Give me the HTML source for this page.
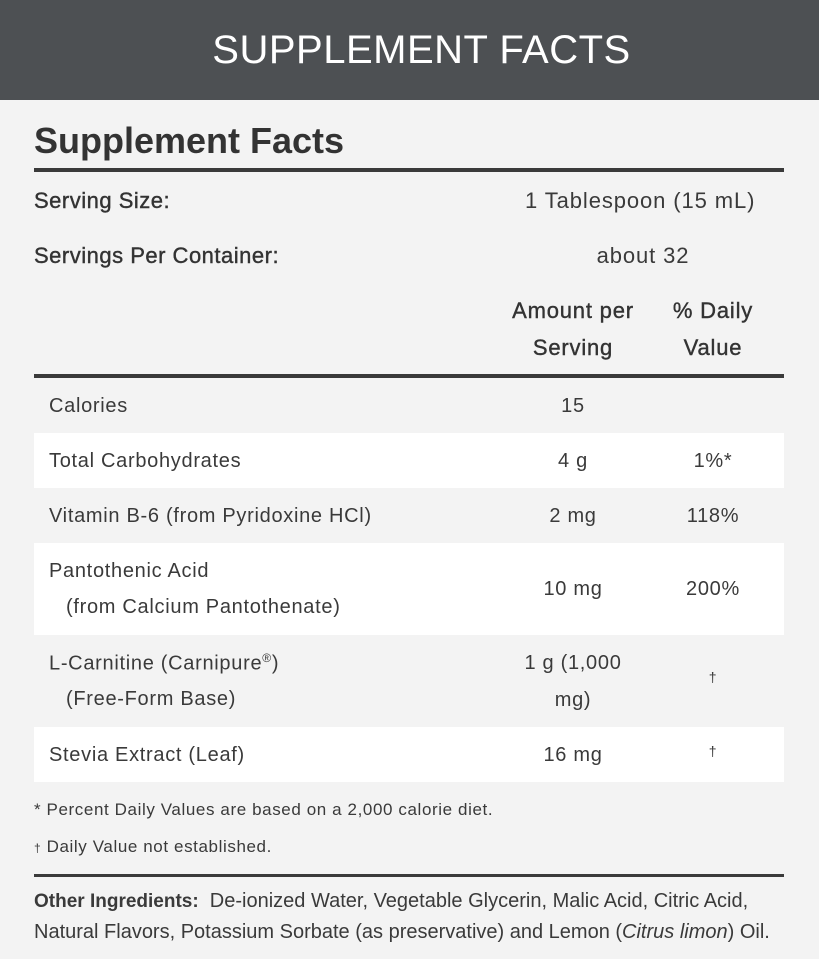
<!DOCTYPE html>
<html><head><style>
*{margin:0;padding:0;box-sizing:border-box}
body{width:819px;height:959px;background:#f3f3f3;font-family:"Liberation Sans",sans-serif;color:#333;position:relative;overflow:hidden}
.a{position:absolute;white-space:nowrap}
.hdr{position:absolute;left:0;top:0;width:819px;height:100px;background:#4d5053;color:#fff;font-size:40px;text-align:center;line-height:100px;letter-spacing:0.5px;padding-left:24px}
.row{position:absolute;left:34px;width:750px;background:#fff}
.t{font-size:20px;color:#3a3a3a;letter-spacing:0.7px}
.b{font-size:22px;color:#333;letter-spacing:0.5px;-webkit-text-stroke:0.4px #333}
.c{text-align:center;transform:translateX(-50%)}
</style></head><body>
<div class="hdr">SUPPLEMENT FACTS</div>
<div class="a" style="left:34px;top:120px;font-size:36px;font-weight:bold;color:#333">Supplement Facts</div>
<div class="a" style="left:34px;top:168px;width:750px;height:4px;background:#3a3a3a"></div>
<div class="a b" style="left:34px;top:188px">Serving Size:</div>
<div class="a t" style="left:525px;top:188px;font-size:22px;letter-spacing:0.9px">1 Tablespoon (15 mL)</div>
<div class="a b" style="left:34px;top:243px">Servings Per Container:</div>
<div class="a t c" style="left:643px;top:243px;font-size:22px;letter-spacing:0.9px">about 32</div>
<div class="a c b" style="left:573px;top:292px;text-align:center;line-height:37px;letter-spacing:0.8px">Amount per<br>Serving</div>
<div class="a c b" style="left:713px;top:292px;text-align:center;line-height:37px;letter-spacing:0.8px">% Daily<br>Value</div>
<div class="a" style="left:34px;top:374px;width:750px;height:4px;background:#3a3a3a"></div>

<div class="row" style="top:433px;height:55px"></div>
<div class="row" style="top:543px;height:92px"></div>
<div class="row" style="top:727px;height:55px"></div>

<div class="a t" style="left:49px;top:395px">Calories</div>
<div class="a t c" style="left:573px;top:395px">15</div>
<div class="a t" style="left:49px;top:450px">Total Carbohydrates</div>
<div class="a t c" style="left:573px;top:450px">4 g</div>
<div class="a t c" style="left:713px;top:450px">1%*</div>
<div class="a t" style="left:49px;top:505px">Vitamin B-6 (from Pyridoxine HCl)</div>
<div class="a t c" style="left:573px;top:505px">2 mg</div>
<div class="a t c" style="left:713px;top:505px">118%</div>
<div class="a t" style="left:49px;top:560px">Pantothenic Acid</div>
<div class="a t" style="left:66px;top:596px">(from Calcium Pantothenate)</div>
<div class="a t c" style="left:573px;top:578px">10 mg</div>
<div class="a t c" style="left:713px;top:578px">200%</div>
<div class="a t" style="left:49px;top:651px">L-Carnitine (Carnipure<sup style="font-size:12px">®</sup>)</div>
<div class="a t" style="left:66px;top:688px">(Free-Form Base)</div>
<div class="a t c" style="left:573px;top:645px;text-align:center;line-height:37px">1 g (1,000<br>mg)</div>
<div class="a t c" style="left:713px;top:669px;font-size:14px">†</div>
<div class="a t" style="left:49px;top:744px">Stevia Extract (Leaf)</div>
<div class="a t c" style="left:573px;top:744px">16 mg</div>
<div class="a t c" style="left:713px;top:743px;font-size:14px">†</div>

<div class="a" style="left:34px;top:800px;font-size:17px;color:#3a3a3a;letter-spacing:0.6px">* Percent Daily Values are based on a 2,000 calorie diet.</div>
<div class="a" style="left:34px;top:837px;font-size:17px;color:#3a3a3a;letter-spacing:0.6px"><span style="font-size:12px">†</span> Daily Value not established.</div>
<div class="a" style="left:34px;top:874px;width:750px;height:3px;background:#3a3a3a"></div>
<div class="a" style="left:34px;top:886px;font-size:20px;color:#3a3a3a;line-height:30px"><b style="font-size:19px">Other Ingredients:</b>&nbsp; De-ionized Water, Vegetable Glycerin, Malic Acid, Citric Acid,<br>Natural Flavors, Potassium Sorbate (as preservative) and Lemon (<i>Citrus limon</i>) Oil.</div>
</body></html>
